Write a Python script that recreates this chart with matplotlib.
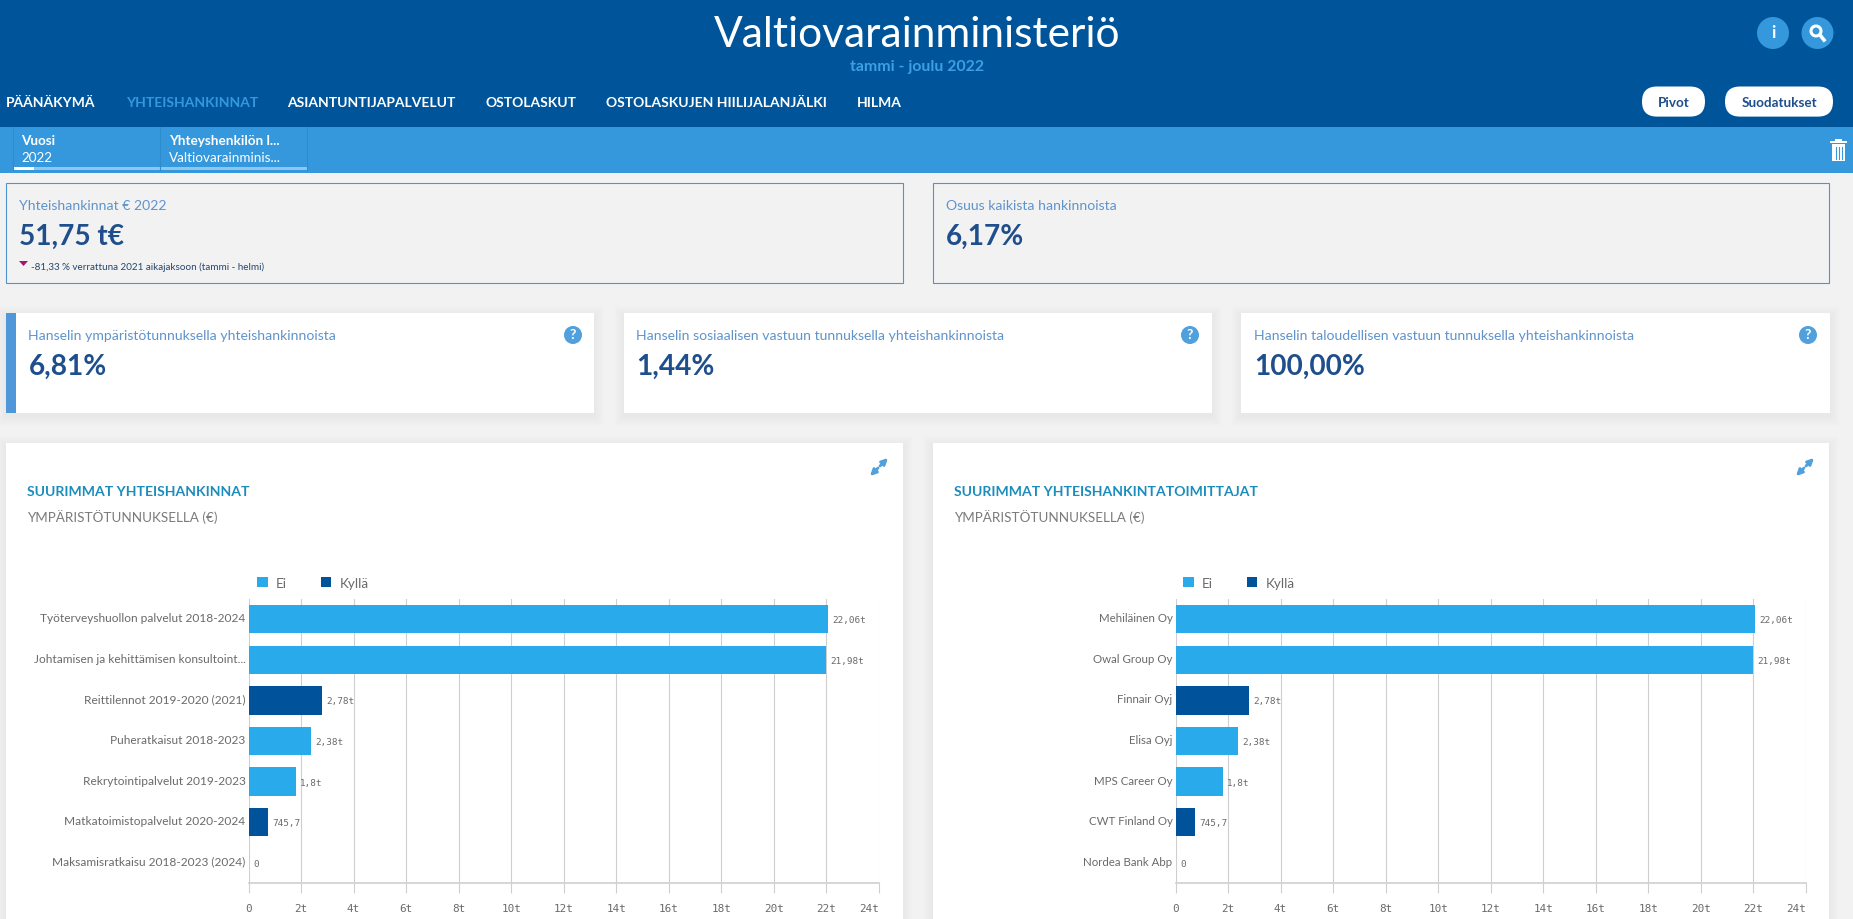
import matplotlib
matplotlib.use("Agg")
import matplotlib.pyplot as plt
from matplotlib.patches import Rectangle, FancyBboxPatch, Circle, Polygon
from matplotlib.lines import Line2D
from matplotlib.transforms import ScaledTranslation

# ---- data ----
categories_left = ["Työterveyshuollon palvelut 2018-2024", "Johtamisen ja kehittämisen konsultoint...",
                   "Reittilennot 2019-2020 (2021)", "Puheratkaisut 2018-2023", "Rekrytointipalvelut 2019-2023",
                   "Matkatoimistopalvelut 2020-2024", "Maksamisratkaisu 2018-2023 (2024)"]
categories_right = ["Mehiläinen Oy", "Owal Group Oy", "Finnair Oyj", "Elisa Oyj", "MPS Career Oy",
                    "CWT Finland Oy", "Nordea Bank Abp"]
values = [22060, 21980, 2780, 2380, 1800, 745.7, 0]
value_labels = ["22,06t", "21,98t", "2,78t", "2,38t", "1,8t", "745,7", "0"]
ymparisto = ["Ei", "Ei", "Kyllä", "Ei", "Ei", "Kyllä", "Ei"]
x_ticks = [0, 2000, 4000, 6000, 8000, 10000, 12000, 14000, 16000, 18000, 20000, 22000, 24000]
x_tick_labels = ["0", "2t", "4t", "6t", "8t", "10t", "12t", "14t", "16t", "18t", "20t", "22t", "24t"]
menu_items = ["PÄÄNÄKYMÄ", "YHTEISHANKINNAT", "ASIANTUNTIJAPALVELUT", "OSTOLASKUT",
              "OSTOLASKUJEN HIILIJALANJÄLKI", "HILMA"]
kpi_labels = ["Hanselin ympäristötunnuksella yhteishankinnoista",
              "Hanselin sosiaalisen vastuun tunnuksella yhteishankinnoista",
              "Hanselin taloudellisen vastuun tunnuksella yhteishankinnoista"]
kpi_values = ["6,81%", "1,44%", "100,00%"]

# ---- style ----
W, H = 1853, 920
plt.rcParams["font.family"] = ["Lato", "DejaVu Sans"]
NAVY = "#00559A"; MID = "#3598DC"; BG = "#F2F2F2"; EI = "#29ABEB"; KYLLA = "#00539A"
LABEL = "#5F93CB"; VALUE = "#1F4E8C"; TITLE = "#1A8DBD"; GREY = "#7A7A7A"; GRID = "#CFCFCF"
colors = {"Ei": EI, "Kyllä": KYLLA}
px = 0.72  # points per pixel at dpi 100

fig = plt.figure(figsize=(W / 100, H / 100), dpi=100, facecolor=BG)
ui = fig.add_axes([0, 0, 1, 1], zorder=0)
ui.set_xlim(0, W); ui.set_ylim(H, 0); ui.axis("off")

def rect(x0, y0, x1, y1, **kw):
    kw.setdefault("lw", 0)
    ui.add_patch(Rectangle((x0, y0), x1 - x0, y1 - y0, **kw))

def text(x, y, s, size, color, weight="normal", ha="left", **kw):
    ui.text(x, y, s, fontsize=size * px, color=color, fontweight=weight, ha=ha, va="center", **kw)

def shadow_card(x0, y0, x1, y1):
    for i in range(10, 0, -1):
        rect(x0 - i, y0 - i + 3, x1 + i, y1 + i + 3, fc="black", alpha=0.005)
    rect(x0, y0, x1, y1, fc="white")

# header
rect(0, 0, W, 128, fc=NAVY)
rect(0, 128, W, 174, fc=MID)
text(917, 35, "Valtiovarainministeriö", 42.5, "white", ha="center")
text(917, 66.5, "tammi - joulu 2022", 15.9, "#3E9FE2", weight="bold", ha="center")
for x, s in zip([6, 126, 287, 485, 606, 857], menu_items):
    text(x, 103, s, 13.85, MID if s == "YHTEISHANKINNAT" else "white", weight="bold")

# header buttons
for x0, x1, s in [(1642, 1705, "Pivot"), (1725, 1833, "Suodatukset")]:
    ui.add_patch(FancyBboxPatch((x0 + 15, 102.5), x1 - x0 - 30, 0.1, boxstyle="round,pad=15",
                                fc="white", lw=0))
    text((x0 + x1) / 2, 103, s, 13.5, VALUE, ha="center", weight="bold")
ui.add_patch(Circle((1773, 34), 16, fc=MID, lw=0))
text(1773, 33, "i", 17, "white", weight="bold", ha="center")
ui.add_patch(Circle((1817.5, 34), 16, fc=MID, lw=0))
ui.add_patch(Circle((1816, 32), 5, fc="none", ec="white", lw=2.2))
ui.add_line(Line2D([1820, 1824], [36, 41], color="white", lw=2.6))

# filter tabs
for x in [12.5, 160, 307]:
    ui.add_line(Line2D([x, x], [128, 171], color="#2F8CCB", lw=0.8))
rect(13, 168, 159.5, 171, fc="#8FC6EE")
rect(161, 168, 307, 171, fc="#8FC6EE")
rect(13, 168, 34, 171, fc="white")
text(21, 141, "Vuosi", 13.5, "white", weight="bold")
text(21, 158, "2022", 13.5, "white")
text(169, 141, "Yhteyshenkilön l...", 13.5, "white", weight="bold")
text(169, 158, "Valtiovarainminis...", 13.5, "white")

# trash icon
rect(1832, 145, 1845, 162, fc="white")
rect(1830, 142, 1847, 144.2, fc="white")
rect(1835, 139.5, 1842, 142, fc="white")
for x in [1835.5, 1838.5, 1841.5]:
    ui.add_line(Line2D([x, x], [148, 160], color=MID, lw=0.8))

# outlined summary cards
for x0, x1 in [(6, 903), (933, 1829)]:
    rect(x0, 184, x1, 283.5, fc=BG, ec="#4F94CF", lw=0.8)
text(19, 206, "Yhteishankinnat € 2022", 14, LABEL)
text(19, 237, "51,75 t€", 28, VALUE, weight="bold")
ui.add_patch(Polygon([[19, 262], [28, 262], [23.5, 267]], fc="#A3176F", lw=0))
text(31, 267, "-81,33 % verrattuna 2021 aikajaksoon (tammi - helmi)", 9.9, "#24466F")
text(946, 206, "Osuus kaikista hankinnoista", 14, LABEL)
text(946, 237, "6,17%", 28, VALUE, weight="bold")

# KPI cards
for (x0, x1, tx, qx), lab, val in zip([(6, 594, 28.5, 573), (624, 1212, 636, 1190), (1241, 1830, 1254, 1808)],
                                      kpi_labels, kpi_values):
    shadow_card(x0, 314, x1, 414)
    text(tx, 336, lab, 14, LABEL)
    text(tx, 367, val, 28, VALUE, weight="bold")
    ui.add_patch(Circle((qx, 336), 9, fc="#4FA0DD", lw=0))
    text(qx, 335.5, "?", 14, "white", weight="bold", ha="center")
rect(6, 314, 16, 414, fc="#4F97D8")

# chart panels
def panel(x0, x1, x_axis0, x_axis1, title, cats, leg_x, label_px):
    shadow_card(x0, 444, x1, 940)
    ix = x0 + 21
    text(ix, 492, title, 14, TITLE, weight="bold")
    text(ix, 517.5, "YMPÄRISTÖTUNNUKSELLA (€)", 13.5, GREY)
    # expand icon
    ex = x1 - 24
    ui.annotate("", xy=(ex + 9, 459), xytext=(ex + 1, 467),
                arrowprops=dict(arrowstyle="-|>", color="#4FA0DD", lw=2, mutation_scale=9, shrinkA=0, shrinkB=0))
    ui.annotate("", xy=(ex - 9, 477), xytext=(ex - 1, 469),
                arrowprops=dict(arrowstyle="-|>", color="#4FA0DD", lw=2, mutation_scale=9, shrinkA=0, shrinkB=0))

    ax = fig.add_axes([x_axis0 / W, 1 - 884 / H, (x_axis1 - x_axis0) / W, 284 / H], zorder=2)
    ax.patch.set_alpha(0)
    ypos = list(range(len(cats)))
    ax.barh(ypos, values, height=0.7, color=[colors[k] for k in ymparisto], zorder=3)
    ax.set_xlim(0, 24000); ax.set_ylim(6.5, -0.5)
    ax.set_yticks(ypos); ax.set_yticklabels(cats, fontsize=label_px * px, color="#6A6A6A")
    ax.set_xticks(x_ticks); ax.set_xticklabels(x_tick_labels, fontsize=11 * px, color="#6A6A6A",
                                               family="DejaVu Sans Mono")
    ax.get_xticklabels()[-1].set_ha("right")
    ax.tick_params(axis="y", length=0, pad=3 * px)
    ax.tick_params(axis="x", length=10 * px, width=0.8, color=GRID, pad=10 * px)
    ax.grid(axis="x", color=GRID, lw=0.8, zorder=0)
    ax.set_axisbelow(True)
    for s in ["top", "left", "right"]:
        ax.spines[s].set_visible(False)
    ax.spines["bottom"].set_color(GRID); ax.spines["bottom"].set_linewidth(1.2)
    shift = ScaledTranslation(0, 2.5 / 100, fig.dpi_scale_trans)
    for lab in ax.get_yticklabels():
        lab.set_transform(lab.get_transform() + shift)
    for y, v, s in zip(ypos, values, value_labels):
        ax.annotate(s, (v, y), xytext=(4.5 * px, -0.5 * px), textcoords="offset points", va="center", ha="left",
                    fontsize=9.4 * px, color="#6A6A6A", family="DejaVu Sans Mono", zorder=4)
    # legend
    handles = [Rectangle((0, 0), 1, 1, fc=colors[k], lw=0) for k in ["Ei", "Kyllä"]]
    ax.legend(handles, ["Ei", "Kyllä"], ncol=2, frameon=False, loc="center left",
              bbox_to_anchor=((leg_x - x_axis0) / (x_axis1 - x_axis0), (884 - 584) / 284),
              fontsize=13.5 * px, handlelength=0.8, handleheight=0.8, handletextpad=0.6,
              columnspacing=2.5, borderpad=0, borderaxespad=0, labelcolor="#6A6A6A")
    return ax

panel(6, 903, 248.5, 879, "SUURIMMAT YHTEISHANKINNAT", categories_left, 257, 11.9)
panel(933, 1829, 1175.5, 1806, "SUURIMMAT YHTEISHANKINTATOIMITTAJAT", categories_right, 1183, 11.5)

fig.savefig("out.png", dpi=100, facecolor=BG)
